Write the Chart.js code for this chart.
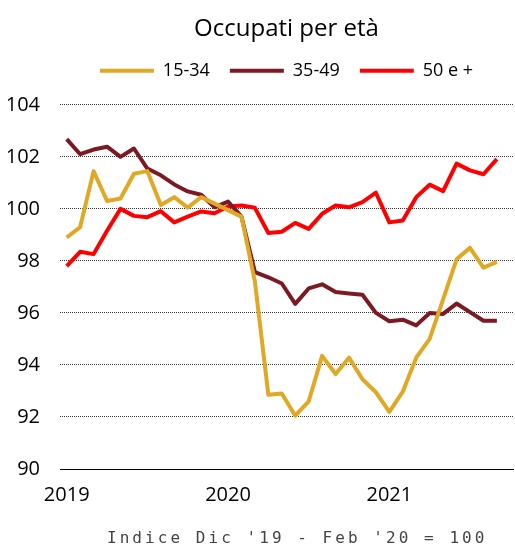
<!DOCTYPE html>
<html>
<head>
<meta charset="utf-8">
<script src="https://cdn.jsdelivr.net/npm/chart.js@4/dist/chart.umd.min.js"></script>
<style>
  html, body { margin: 0; padding: 0; background: #fff; }
  #wrap { position: relative; width: 515px; height: 548px; }
  #caption {
    position: absolute; left: 107px; top: 528px;
    font-family: 'DejaVu Sans Mono', monospace; font-size: 16px;
    letter-spacing: 3.05px; line-height: 20px; color: #444; white-space: nowrap;
  }
</style>
</head>
<body>
<div id="wrap">
  <canvas id="chart" width="515" height="548"></canvas>
  <div id="caption">Indice Dic '19 - Feb '20 = 100</div>
</div>
<script>
// --- Data: monthly index, Jan 2019 - Sep 2021 ---
const yearTicks = [0, 12, 24];
const yearLabels = ['2019', '2020', '2021'];
const yTicks = [90, 92, 94, 96, 98, 100, 102, 104];

const age15_34 = [98.9, 99.3, 101.45, 100.3, 100.4, 101.35, 101.45, 100.15, 100.45, 100.05, 100.45, 100.2,
                  99.95, 99.7, 97.2, 92.85, 92.9, 92.05, 92.6, 94.35, 93.65, 94.28, 93.45, 92.95,
                  92.2, 92.97, 94.28, 95.0, 96.52, 98.06, 98.5, 97.74, 97.96];
const age35_49 = [102.68, 102.1, 102.28, 102.39, 102.0, 102.32, 101.55, 101.29, 100.94, 100.67, 100.54, 100.06,
                  100.28, 99.7, 97.57, 97.37, 97.13, 96.35, 96.94, 97.1, 96.8, 96.75, 96.7, 96.0,
                  95.68, 95.74, 95.52, 96.0, 95.96, 96.36, 96.03, 95.7, 95.7];
const age50plus = [97.8, 98.35, 98.26, 99.16, 100.0, 99.73, 99.68, 99.91, 99.48, 99.7, 99.9, 99.83,
                   100.09, 100.13, 100.04, 99.07, 99.12, 99.46, 99.23, 99.81, 100.13, 100.06, 100.26, 100.62,
                   99.48, 99.55, 100.45, 100.93, 100.68, 101.74, 101.48, 101.33, 101.91];

const seriesNames = ['15-34', '35-49', '50 e +'];
const seriesColors = ['#E0A824', '#7B1A22', '#FF0000'];
const seriesValues = [age15_34, age35_49, age50plus];

const FONT = "'Open Sans', 'Noto Sans', sans-serif";

const toPoints = arr => arr.map((v, i) => ({ x: i, y: v }));

// extra room under the legend
const legendGap = {
    id: 'legendGap',
    beforeInit(chart) {
        const fit = chart.legend.fit;
        chart.legend.fit = function () { fit.bind(chart.legend)(); this.height += 15; };
    }
};

const chartCtx = document.getElementById('chart').getContext('2d');
new Chart(chartCtx, {
    type: 'line',
    data: {
        datasets: seriesValues.map((vals, k) => ({
            label: seriesNames[k],
            data: toPoints(vals),
            borderColor: seriesColors[k],
            backgroundColor: seriesColors[k],
            borderWidth: 4,
            borderJoinStyle: 'round',
            pointRadius: 0,
            tension: 0
        }))
    },
    plugins: [legendGap],
    options: {
        responsive: false,
        animation: false,
        layout: { padding: { left: 8, right: 2, top: 0, bottom: 27 } },
        plugins: {
            title: {
                display: true, text: 'Occupati per età', fullSize: false,
                color: '#000', font: { family: FONT, size: 24, weight: 'normal' },
                padding: { top: 15, bottom: -2 }
            },
            legend: {
                fullSize: false,
                labels: {
                    boxWidth: 54, boxHeight: 4, padding: 20, color: '#000',
                    font: { family: FONT, size: 18 },
                    generateLabels: chart => Chart.defaults.plugins.legend.labels.generateLabels(chart)
                        .map(l => ({ ...l, lineWidth: 0 }))
                }
            },
            tooltip: { enabled: false }
        },
        scales: {
            x: {
                type: 'linear', min: -0.5, max: 33.2,
                afterBuildTicks: s => { s.ticks = yearTicks.map(v => ({ value: v })); },
                ticks: {
                    callback: v => yearLabels[yearTicks.indexOf(v)],
                    color: '#000', font: { family: FONT, size: 20 },
                    padding: 14, maxRotation: 0, autoSkip: false
                },
                grid: { display: false, drawTicks: false },
                border: { display: true, color: '#000', width: 1 }
            },
            y: {
                min: 90, max: 104,
                afterBuildTicks: s => { s.ticks = yTicks.map(v => ({ value: v })); },
                afterFit: s => { s.width = 52; },
                ticks: { color: '#000', font: { family: FONT, size: 20 }, padding: 20 },
                grid: {
                    color: c => c.tick && c.tick.value === 90 ? 'rgba(0,0,0,0)' : '#333',
                    lineWidth: 1, drawTicks: false
                },
                border: { display: false, dash: [1, 1] }
            }
        }
    }
});
</script>
</body>
</html>
